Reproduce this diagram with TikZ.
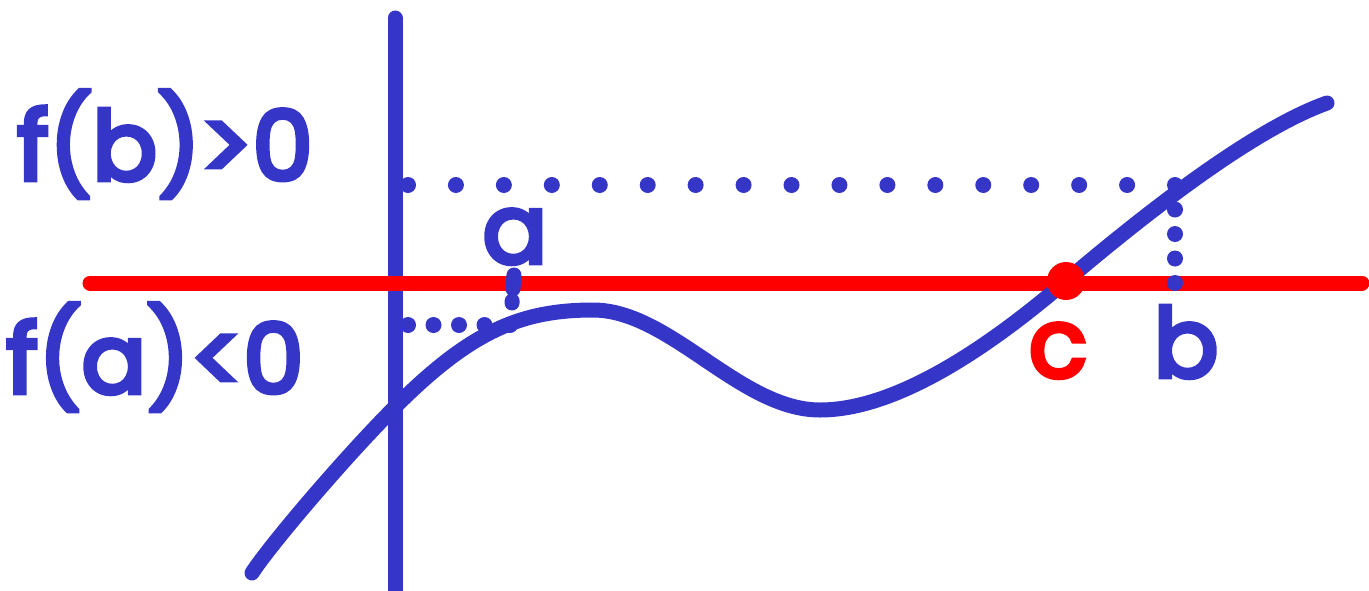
\documentclass[tikz,border=0pt]{standalone}
\usepackage{fontspec}
\setmainfont{Poppins}
\newfontfamily\lblfont{Poppins}[FakeBold=5]
\definecolor{fblue}{RGB}{53,53,200}
\definecolor{fred}{RGB}{255,0,0}
\tikzset{
  thick line/.style={line width=15pt, line cap=round},
  dotline/.style={fblue, line width=16pt, line cap=round},
  lbl/.style={inner sep=0pt, anchor=base, font=\fontsize{96}{96}\lblfont},
}
\begin{document}
\begin{tikzpicture}[x=1pt,y=-1pt]
\useasboundingbox (0,0) rectangle (1369,590);
% axis
\coordinate (axtop) at (395,18);
\coordinate (axbot) at (395,600);
\draw[thick line, fblue, line cap=butt] (axbot) -- (395,25);
\draw[thick line, fblue] (395,30) -- (axtop);
% red x-axis
\coordinate (xl) at (90,283);
\coordinate (xr) at (1362,283);
\draw[thick line, fred] (xl) -- (xr);
% dotted guides
\coordinate (fb) at (408,185);
\coordinate (bt) at (1175,185);
\coordinate (bb) at (1175,283);
\coordinate (fa) at (408,325);
\coordinate (at) at (510,325);
\coordinate (a1) at (514,275);
\coordinate (a2) at (512,303);
\draw[dotline, dash pattern=on 0pt off 47.94pt] (fb) -- (bt);
\draw[dotline, dash pattern=on 0pt off 24.5pt] (bt) -- (bb);
\draw[dotline, dash pattern=on 0pt off 25.5pt] (fa) -- (at);
\draw[dotline, line width=15pt, dash pattern=on 14pt off 12pt] (a1) -- (a2);
% curve
\coordinate (p0) at (252,573);
\coordinate (p1) at (395,407);
\coordinate (p2) at (593,310);
\coordinate (p3) at (820,410);
\coordinate (p4) at (1066,281);
\coordinate (p5) at (1327,103);
\draw[thick line, fblue, line join=round]
  (p0) .. controls (270,545) and (345,457) .. (p1)
       .. controls (470,332) and (520,310) .. (p2)
       .. controls (670,310) and (740,410) .. (p3)
       .. controls (900,410) and (996,341) .. (p4)
       .. controls (1156,204.5) and (1257,128) .. (p5);
% root
\node[circle, fill=fred, minimum size=38pt, inner sep=0pt] (c) at (p4) {};
% labels
\node[lbl, text=fblue] (lfb) at (165,180) {f(b)>0};
\node[lbl, text=fblue] (lfa) at (155,393) {f(a)<0};
\node[lbl, text=fblue] (la) at (515,263) {a};
\node[lbl, text=fred] (lc) at (1058,377) {c};
\node[lbl, text=fblue] (lb) at (1186,377) {b};
\end{tikzpicture}
\end{document}
